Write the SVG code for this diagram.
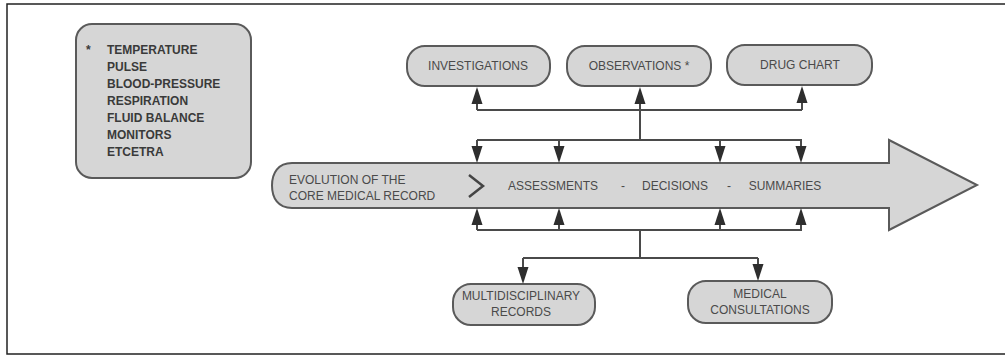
<svg xmlns="http://www.w3.org/2000/svg" xmlns:xlink="http://www.w3.org/1999/xlink" width="1005" height="357" viewBox="0 0 1005 357">
<style>
.box{fill:#d6d6d6;stroke:#5a5a5a;stroke-width:2}
.t{font-family:"Liberation Sans",Arial,sans-serif;font-size:12px;fill:#4a4a4a}
.b{font-family:"Liberation Sans",Arial,sans-serif;font-size:12px;font-weight:bold;fill:#3a3a3a}
.ln{fill:none;stroke:#4a4a4a;stroke-width:2}
.hd{fill:#2e2e2e}
</style>
<defs>
<path id="up" class="hd" d="M0,0 L5.5,17 L-5.5,17 Z"/>
<path id="dn" class="hd" d="M0,0 L5.5,-17 L-5.5,-17 Z"/>
</defs>
<rect x="0" y="0" width="1005" height="357" fill="#fff"/>
<path d="M1005,4 H7 V354 H1005" fill="none" stroke="#222" stroke-width="1.5"/>

<g id="vitals">
<rect class="box" x="76" y="24" width="175" height="154" rx="16"/>
<text class="b" x="86" y="54">*</text>
<text class="b" x="107" y="54">TEMPERATURE</text>
<text class="b" x="107" y="71">PULSE</text>
<text class="b" x="107" y="88">BLOOD-PRESSURE</text>
<text class="b" x="107" y="105">RESPIRATION</text>
<text class="b" x="107" y="122">FLUID BALANCE</text>
<text class="b" x="107" y="139">MONITORS</text>
<text class="b" x="107" y="156">ETCETRA</text>
</g>

<g id="core-record">
<path class="box" d="M292,163 H889 V140 L977,185 L889,230 V208 H292 C278,208 272,198 272,185.5 C272,173 278,163 292,163 Z"/>
<text class="t" x="289" y="184" font-size="12.5">EVOLUTION OF THE</text>
<text class="t" x="289" y="200" font-size="12.5">CORE MEDICAL RECORD</text>
<path d="M469,175 L483,186 L469,197" fill="none" stroke="#444" stroke-width="2.5"/>
<text class="t" x="553" y="190" text-anchor="middle">ASSESSMENTS</text>
<text class="t" x="623" y="190" text-anchor="middle">-</text>
<text class="t" x="675" y="190" text-anchor="middle">DECISIONS</text>
<text class="t" x="729" y="190" text-anchor="middle">-</text>
<text class="t" x="785" y="190" text-anchor="middle">SUMMARIES</text>
</g>

<g id="investigations">
<rect class="box" x="407" y="46" width="143" height="40" rx="18"/>
<text class="t" x="478" y="70" text-anchor="middle">INVESTIGATIONS</text>
</g>
<g id="observations">
<rect class="box" x="567" y="46" width="144" height="40" rx="18"/>
<text class="t" x="639" y="70" text-anchor="middle">OBSERVATIONS *</text>
</g>
<g id="drug-chart">
<rect class="box" x="727" y="45" width="145" height="40" rx="18"/>
<text class="t" x="800" y="69" text-anchor="middle">DRUG CHART</text>
</g>
<g id="multidisciplinary">
<rect class="box" x="453" y="284" width="142" height="41" rx="18"/>
<text class="t" x="521" y="300" text-anchor="middle">MULTIDISCIPLINARY</text>
<text class="t" x="521" y="316" text-anchor="middle">RECORDS</text>
</g>
<g id="medical-consultations">
<rect class="box" x="688" y="281" width="144" height="42" rx="18"/>
<text class="t" x="760" y="298" text-anchor="middle">MEDICAL</text>
<text class="t" x="760" y="314" text-anchor="middle">CONSULTATIONS</text>
</g>

<g id="connectors">
<path class="ln" d="M477,110 H802 M640,110 V140 M477,140 H802 M640,230 V258 M523,258 H758 M477,230 H802"/>
<path class="ln" d="M477,110 V100 M640,110 V100 M802,110 V100 M477,140 V150 M559,140 V150 M720,140 V150 M801,140 V150 M477,230 V220 M559,230 V220 M720,230 V220 M801,230 V220 M523,258 V270 M758,258 V268"/>
<use xlink:href="#up" x="477" y="87"/>
<use xlink:href="#up" x="640" y="87"/>
<use xlink:href="#up" x="802" y="86"/>
<use xlink:href="#dn" x="477" y="163"/>
<use xlink:href="#dn" x="559" y="163"/>
<use xlink:href="#dn" x="720" y="163"/>
<use xlink:href="#dn" x="801" y="163"/>
<use xlink:href="#up" x="477" y="208"/>
<use xlink:href="#up" x="559" y="208"/>
<use xlink:href="#up" x="720" y="208"/>
<use xlink:href="#up" x="801" y="208"/>
<use xlink:href="#dn" x="523" y="284"/>
<use xlink:href="#dn" x="758" y="281"/>
</g>
</svg>
